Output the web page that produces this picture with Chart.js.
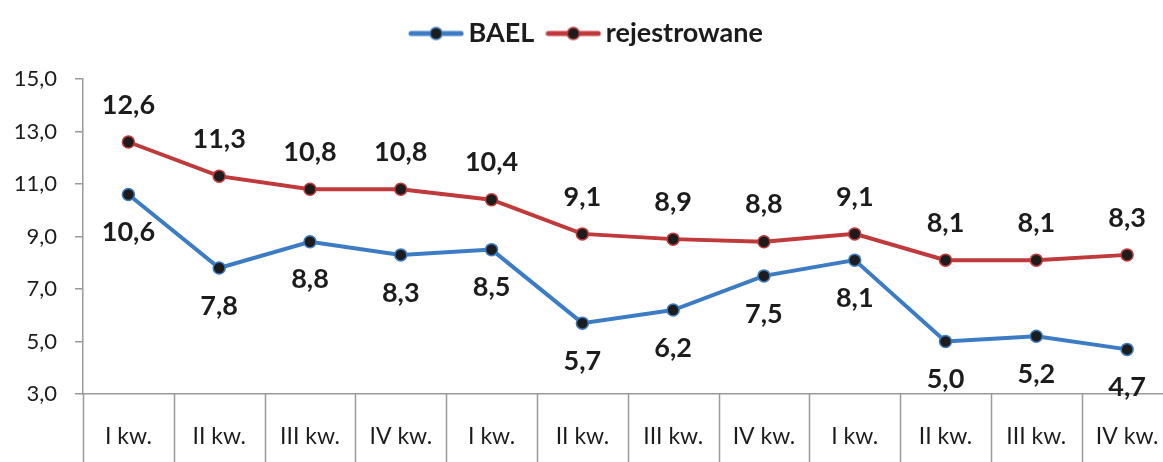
<!DOCTYPE html>
<html>
<head>
<meta charset="utf-8">
<script src="https://cdn.jsdelivr.net/npm/chart.js@4/dist/chart.umd.min.js"></script>
<style>
  html, body { margin: 0; padding: 0; background: #fff; overflow: hidden; }
  #wrap { width: 1180px; height: 462px; }
</style>
</head>
<body>
<div id="wrap"><canvas id="chart"></canvas></div>
<script>
const categories = ['I kw.', 'II kw.', 'III kw.', 'IV kw.', 'I kw.', 'II kw.', 'III kw.', 'IV kw.', 'I kw.', 'II kw.', 'III kw.', 'IV kw.']
const bael = [10.6, 7.8, 8.8, 8.3, 8.5, 5.7, 6.2, 7.5, 8.1, 5.0, 5.2, 4.7]
const rejestrowane = [12.6, 11.3, 10.8, 10.8, 10.4, 9.1, 8.9, 8.8, 9.1, 8.1, 8.1, 8.3]
const yTicks = [3, 5, 7, 9, 11, 13, 15]

const blue = '#3b7cc4'
const red = '#c0393b'
const font = 'Lato'

function legendMarker(color) {
    const c = document.createElement('canvas')
    c.width = 56
    c.height = 16
    const ctx = c.getContext('2d')
    ctx.strokeStyle = color
    ctx.lineWidth = 5
    ctx.lineCap = 'round'
    ctx.beginPath()
    ctx.moveTo(3, 8)
    ctx.lineTo(53, 8)
    ctx.stroke()
    ctx.beginPath()
    ctx.arc(28, 8, 6, 0, Math.PI * 2)
    ctx.fillStyle = '#1c1c1c'
    ctx.fill()
    ctx.lineWidth = 1.5
    ctx.strokeStyle = color
    ctx.stroke()
    return c
}

const fmt = v => v.toFixed(1).replace('.', ',')

// value labels: red above the points, blue below
const valueLabels = {
    id: 'valueLabels',
    afterDatasetsDraw(chart) {
        const ctx = chart.ctx
        ctx.save()
        ctx.font = 'bold 27px ' + font
        ctx.fillStyle = '#1c1c1c'
        ctx.textAlign = 'center'
        ctx.textBaseline = 'middle'
        chart.data.datasets.forEach((ds, i) => {
            const meta = chart.getDatasetMeta(i)
            meta.data.forEach((pt, j) => {
                const dy = i === 0 ? 38 : -37
                ctx.fillText(fmt(ds.data[j]), pt.x, pt.y + dy)
            })
        })
        ctx.restore()
    }
}

// vertical separators between the category labels
const separators = {
    id: 'separators',
    afterDraw(chart) {
        const ctx = chart.ctx
        const x = chart.scales.x
        const top = chart.chartArea.bottom
        const step = x.getPixelForValue(1) - x.getPixelForValue(0)
        ctx.save()
        ctx.strokeStyle = '#9a9a9a'
        ctx.lineWidth = 1.5
        ctx.beginPath()
        for (let i = 0; i < categories.length; i++) {
            const px = Math.round(x.getPixelForValue(i) - step / 2) + 0.5
            ctx.moveTo(px, top)
            ctx.lineTo(px, chart.height)
        }
        ctx.stroke()
        ctx.restore()
    }
}

const legendHeight = {
    id: 'legendHeight',
    beforeInit(chart) {
        const fit = chart.legend.fit
        chart.legend.fit = function () {
            fit.bind(chart.legend)()
            this.height = 79
        }
    }
}

new Chart(document.querySelector('#chart'), {
    type: 'line',
    data: {
        labels: categories,
        datasets: [{
            label: 'BAEL',
            data: bael,
            borderColor: blue,
            backgroundColor: '#1c1c1c',
            pointBorderColor: blue,
            borderWidth: 4,
            pointRadius: 6,
            pointBorderWidth: 1.5,
            tension: 0,
            pointStyle: 'circle'
        }, {
            label: 'rejestrowane',
            data: rejestrowane,
            borderColor: red,
            backgroundColor: '#1c1c1c',
            pointBorderColor: red,
            borderWidth: 4,
            pointRadius: 6,
            pointBorderWidth: 1.5,
            tension: 0,
            pointStyle: 'circle'
        }]
    },
    options: {
        responsive: true,
        maintainAspectRatio: false,
        animation: false,
        layout: { padding: 0 },
        plugins: {
            legend: {
                display: true,
                position: 'top',
                labels: {
                    usePointStyle: true,
                    pointStyleWidth: 38,
                    boxHeight: 16,
                    padding: 20,
                    color: '#1c1c1c',
                    font: { family: font, size: 27, weight: 'bold' },
                    generateLabels(chart) {
                        return chart.data.datasets.map((ds, i) => ({
                            text: ds.label,
                            pointStyle: legendMarker(ds.borderColor),
                            fillStyle: ds.borderColor,
                            strokeStyle: ds.borderColor,
                            lineWidth: 0,
                            fontColor: '#1c1c1c',
                            datasetIndex: i
                        }))
                    }
                }
            },
            tooltip: { enabled: false }
        },
        scales: {
            x: {
                offset: true,
                grid: { display: false, drawTicks: false, offset: true },
                border: { display: true, color: '#9a9a9a', width: 1.5 },
                ticks: { color: '#1c1c1c', font: { family: font, size: 23 }, padding: 29, maxRotation: 0, autoSkip: false },
                afterFit(s) {
                    s.height = 68
                    s.paddingLeft = 0
                    s.paddingRight = 0
                }
            },
            y: {
                min: 3,
                max: 15,
                afterBuildTicks(s) { s.ticks = yTicks.map(v => ({ value: v })) },
                grid: { drawOnChartArea: false, drawTicks: true, tickLength: 8, color: '#9a9a9a', lineWidth: 1.5 },
                border: { display: true, color: '#9a9a9a', width: 1.5 },
                ticks: { color: '#1c1c1c', font: { family: font, size: 22 }, padding: 18, callback: v => fmt(v) },
                afterFit(s) { s.width = 83 }
            }
        }
    },
    plugins: [legendHeight, valueLabels, separators]
})
</script>
</body>
</html>
